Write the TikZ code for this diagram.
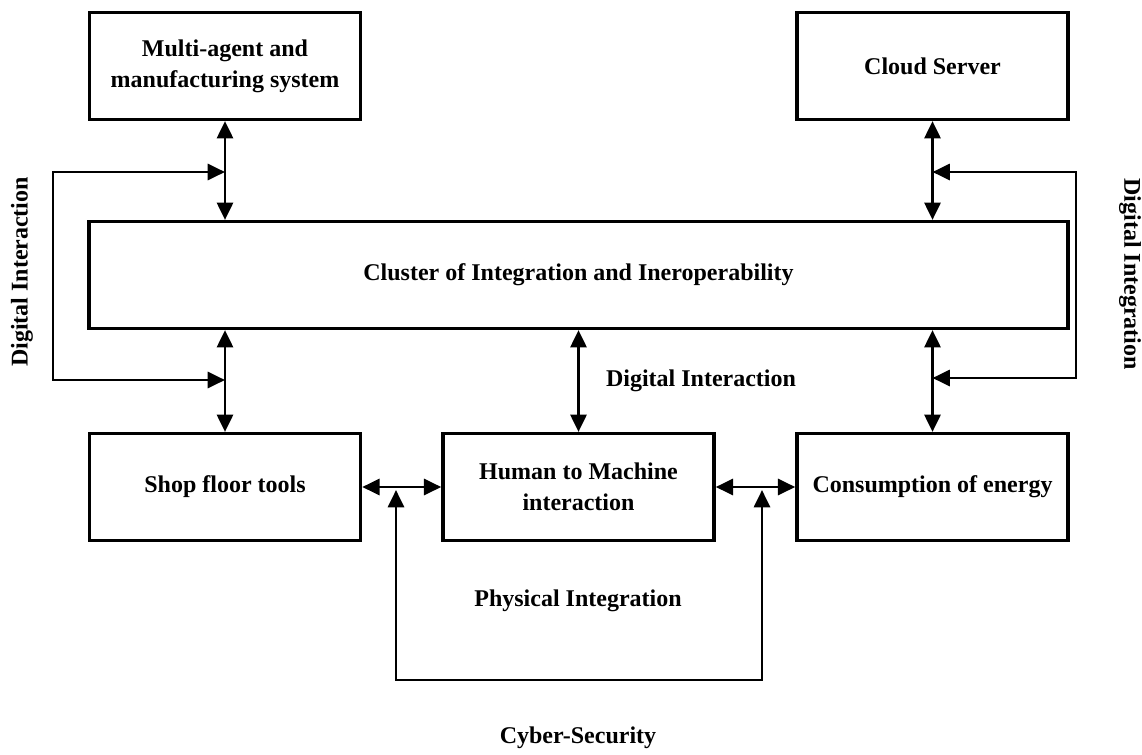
\documentclass[tikz,border=0pt]{standalone}
\usepackage{fontspec}
\setmainfont{Liberation Serif}
\usetikzlibrary{arrows.meta}
\begin{document}
\begin{tikzpicture}[x=0.75pt,y=-0.75pt,
  box/.style={draw, line width=2.6pt, minimum width=203.25pt, minimum height=80pt, align=center, font=\fontsize{18}{23.5}\selectfont\bfseries, inner sep=0pt},
  conn/.style={line width=2.2pt, {Triangle[length=13pt,width=12pt]}-{Triangle[length=13pt,width=12pt]}},
  lbl/.style={font=\fontsize{18}{23.5}\selectfont\bfseries, inner sep=0pt}]
\useasboundingbox (0,0) rectangle (1142,754);
\node[box] (multi) at (225,66) {Multi-agent and\\manufacturing system};
\node[box] (cloud) at (932.5,66) {Cloud Server};
\node[box, minimum width=734.25pt] (cluster) at (578.5,275) {Cluster of Integration and Ineroperability};
\node[box] (shop) at (225,487) {Shop floor tools};
\node[box] (human) at (578.5,487) {Human to Machine\\interaction};
\node[box] (energy) at (932.5,487) {Consumption of energy};
% vertical double arrows
\draw[conn] (multi.south) -- (cluster.north -| multi.south);
\draw[conn] (cluster.south -| shop.north) -- (shop.north);
\draw[conn] (cluster.south -| human.north) -- (human.north);
\draw[conn] (cloud.south) -- (cluster.north -| cloud.south);
\draw[conn] (cluster.south -| energy.north) -- (energy.north);
% horizontal double arrows
\draw[conn] (shop.east) -- (human.west);
\draw[conn] (human.east) -- (energy.west);
% left loop
\coordinate (l1) at (53,172);
\coordinate (l2) at (53,380);
\draw[conn] (l1 -| multi.south) -- (l1) -- (l2) -- (l2 -| multi.south);
% right loop
\coordinate (r1) at (1076,172);
\coordinate (r2) at (1076,378);
\draw[conn] (r1 -| cloud.south) -- (r1) -- (r2) -- (r2 -| cloud.south);
% bottom loop
\coordinate (b1) at (396,490);
\coordinate (b2) at (396,680);
\coordinate (b3) at (762,680);
\coordinate (b4) at (762,490);
\draw[conn] (b1) -- (b2) -- (b3) -- (b4);
% labels
\node[lbl] (dimid) at (701,381) {Digital Interaction};
\node[lbl, rotate=90] (dileft) at (22,272) {Digital Interaction};
\node[lbl, rotate=-90] (diright) at (1130,274) {Digital Integration};
\node[lbl] (phys) at (578,601) {Physical Integration};
\node[lbl] (cyber) at (578,738) {Cyber-Security};
\end{tikzpicture}
\end{document}
